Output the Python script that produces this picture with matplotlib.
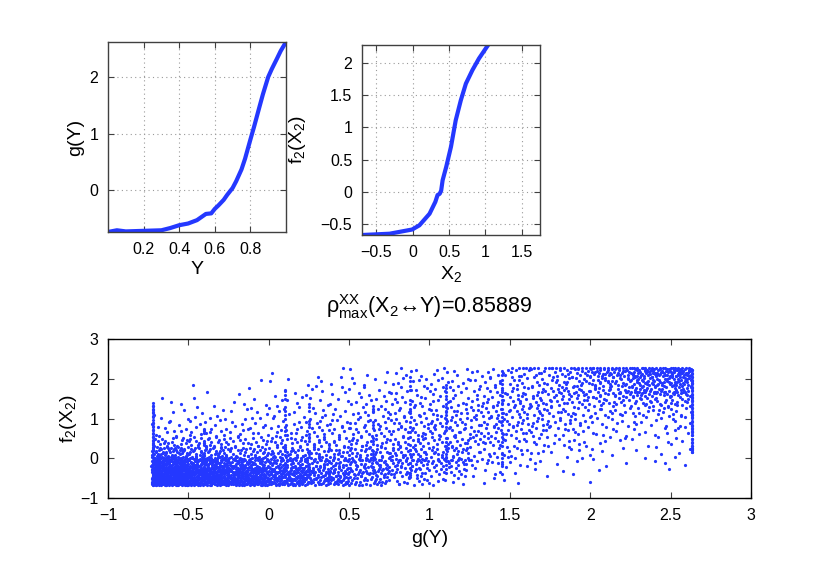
import numpy as np
import matplotlib
matplotlib.use('Agg')
import matplotlib.pyplot as plt
from matplotlib.ticker import FuncFormatter

plt.rcParams['font.family'] = ['Liberation Sans', 'DejaVu Sans']
plt.rcParams['mathtext.fontset'] = 'custom'
plt.rcParams['mathtext.rm'] = 'Liberation Sans'
plt.rcParams['mathtext.it'] = 'Liberation Sans'

BLUE = '#2438ff'

# transform g(Y)
y_vals = [0.0, 0.05, 0.1, 0.2, 0.3, 0.35, 0.4, 0.45, 0.5, 0.55, 0.58, 0.6, 0.62,
          0.65, 0.67, 0.7, 0.72, 0.75, 0.77, 0.8, 0.82, 0.85, 0.87, 0.9, 0.92,
          0.95, 0.97, 1.0]
g_vals = [-0.74, -0.71, -0.73, -0.72, -0.71, -0.67, -0.62, -0.59, -0.53, -0.42,
          -0.41, -0.33, -0.27, -0.17, -0.08, 0.04, 0.16, 0.37, 0.56, 0.9, 1.12,
          1.47, 1.70, 2.01, 2.15, 2.34, 2.47, 2.63]

# transform f2(X2)
x2_vals = [-0.7, -0.32, -0.01, 0.09, 0.23, 0.31, 0.34, 0.37, 0.39, 0.41, 0.46,
           0.525, 0.59, 0.66, 0.73, 0.82, 0.91, 1.03]
f2_vals = [-0.67, -0.65, -0.585, -0.52, -0.34, -0.155, -0.05, -0.03, 0.02, 0.18,
           0.39, 0.70, 1.11, 1.42, 1.68, 1.89, 2.07, 2.27]

# scatter g(Y) vs f2(X2): point counts per cell
g_edges = [-0.73, -0.5, -0.25, 0.0, 0.25, 0.5, 0.75, 1.0, 1.25, 1.5, 1.75, 2.0,
           2.25, 2.5, 2.63]
f_edges = [-0.68, -0.45, -0.2, 0.05, 0.3, 0.55, 0.8, 1.05, 1.3, 1.55, 1.8, 2.05,
           2.27]
cell_counts = [  # rows: f2 bins bottom -> top, cols: g bins left -> right
    [190, 150, 115, 85, 55, 30, 16, 8, 3, 1, 1, 0, 0, 0],
    [165, 130, 95, 70, 50, 38, 26, 15, 6, 4, 2, 1, 1, 0],
    [105, 80, 58, 45, 38, 32, 30, 25, 10, 6, 4, 3, 3, 2],
    [50, 38, 28, 26, 26, 25, 25, 22, 12, 9, 5, 4, 3, 2],
    [20, 22, 16, 18, 18, 18, 20, 18, 14, 10, 8, 5, 4, 3],
    [8, 12, 10, 12, 14, 15, 15, 18, 16, 14, 10, 7, 6, 4],
    [6, 8, 8, 8, 10, 12, 14, 16, 17, 16, 12, 8, 8, 5],
    [3, 4, 5, 7, 8, 10, 12, 14, 16, 18, 14, 12, 14, 7],
    [3, 2, 4, 5, 6, 8, 10, 12, 14, 18, 18, 18, 22, 12],
    [0, 1, 2, 4, 5, 7, 9, 10, 12, 16, 22, 26, 32, 18],
    [0, 1, 1, 3, 4, 5, 7, 9, 10, 14, 20, 30, 42, 26],
    [0, 0, 0, 1, 2, 3, 6, 7, 9, 12, 18, 34, 55, 36],
]
# repeated values show up as stripes: (position, from, to, number of points)
v_stripes = [(-0.72, -0.68, 1.48, 45), (-0.4, -0.6, 0.9, 14), (0.1, -0.6, 1.9, 16),
             (0.25, -0.5, 1.6, 14), (0.65, -0.5, 1.5, 14), (0.88, -0.6, 2.27, 18),
             (1.1, -0.4, 2.0, 20), (1.45, -0.4, 2.2, 24), (2.63, 0.1, 2.27, 55)]
h_stripes = [(-0.05, -0.7, 1.3, 45), (-0.35, -0.7, 0.5, 25), (1.67, 2.2, 2.63, 14),
             (2.27, 1.5, 2.63, 45)]


def halton(idx, base):
    idx = np.asarray(idx, dtype=int)
    out = np.zeros(idx.shape)
    f = 1.0
    while np.any(idx > 0):
        f /= base
        out += f * (idx % base)
        idx = idx // base
    return out


sx, sy = [], []
for r, row in enumerate(cell_counts):
    for c, n in enumerate(row):
        k = np.arange(n) + 1 + 211 * (r * 14 + c)
        sx += list(g_edges[c] + (g_edges[c + 1] - g_edges[c]) * halton(k, 2))
        sy += list(f_edges[r] + (f_edges[r + 1] - f_edges[r]) * halton(k + 5, 3))
for j, (pos, lo, hi, n) in enumerate(v_stripes):
    sx += [pos] * n
    sy += list(lo + (hi - lo) * halton(np.arange(n) + 3 + 50 * j, 5))
for j, (pos, lo, hi, n) in enumerate(h_stripes):
    sy += [pos] * n
    sx += list(lo + (hi - lo) * halton(np.arange(n) + 7 + 50 * j, 7))

fmt = FuncFormatter(lambda v, p: ('%g' % v).replace('-', '\u2212'))


def style(ax, grid=True):
    for s in ax.spines.values():
        s.set_color('#404040')
        s.set_linewidth(1.0)
    ax.tick_params(direction='in', length=4, labelsize=11.5, color='#404040',
                   top=True, right=True, pad=7)
    ax.xaxis.set_major_formatter(fmt)
    ax.yaxis.set_major_formatter(fmt)
    if grid:
        ax.grid(True, linestyle=(0, (1, 3)), color='#9a9a9a', linewidth=0.8)


fig = plt.figure(figsize=(8.3, 5.61), dpi=100)

ax1 = fig.add_axes([0.1301, 0.5865, 0.2145, 0.3387])
ax1.plot(y_vals, g_vals, color=BLUE, lw=3)
ax1.set_xlim(0, 1.0)
ax1.set_ylim(-0.74, 2.63)
ax1.set_xticks([0.2, 0.4, 0.6, 0.8])
ax1.set_yticks([0, 1, 2])
style(ax1)
ax1.set_xlabel('Y', fontsize=14, labelpad=3)
ax1.set_ylabel('g(Y)', fontsize=14, labelpad=4)

ax2 = fig.add_axes([0.4361, 0.5811, 0.2145, 0.3387])
ax2.plot(x2_vals, f2_vals, color=BLUE, lw=3)
ax2.set_xlim(-0.7, 1.75)
ax2.set_ylim(-0.67, 2.28)
ax2.set_xticks([-0.5, 0, 0.5, 1, 1.5])
ax2.set_yticks([-0.5, 0, 0.5, 1, 1.5, 2])
style(ax2)
ax2.set_xlabel(r'$\mathregular{X_2}$', fontsize=14, labelpad=3)
ax2.set_ylabel(r'$\mathregular{f_2(X_2)}$', fontsize=14, labelpad=9)

ax3 = fig.add_axes([0.1301, 0.1123, 0.7747, 0.2834])
ax3.plot(sx, sy, 'o', color=BLUE, ms=2.3, mew=0)
ax3.set_xlim(-1, 3)
ax3.set_ylim(-1, 3)
ax3.set_xticks(np.arange(-1, 3.01, 0.5))
ax3.set_yticks([-1, 0, 1, 2, 3])
style(ax3, grid=False)
for s in ax3.spines.values():
    s.set_color('black')
ax3.set_xlabel('g(Y)', fontsize=14, labelpad=5)
ax3.set_ylabel(r'$\mathregular{f_2(X_2)}$', fontsize=14, labelpad=1)
ax3.set_title(r'$\mathregular{\rho^{XX}_{max}(X_2}$' + '\u2194Y)=0.85889',
              fontsize=15.5, pad=19)

fig.savefig('out.png', dpi=100)
